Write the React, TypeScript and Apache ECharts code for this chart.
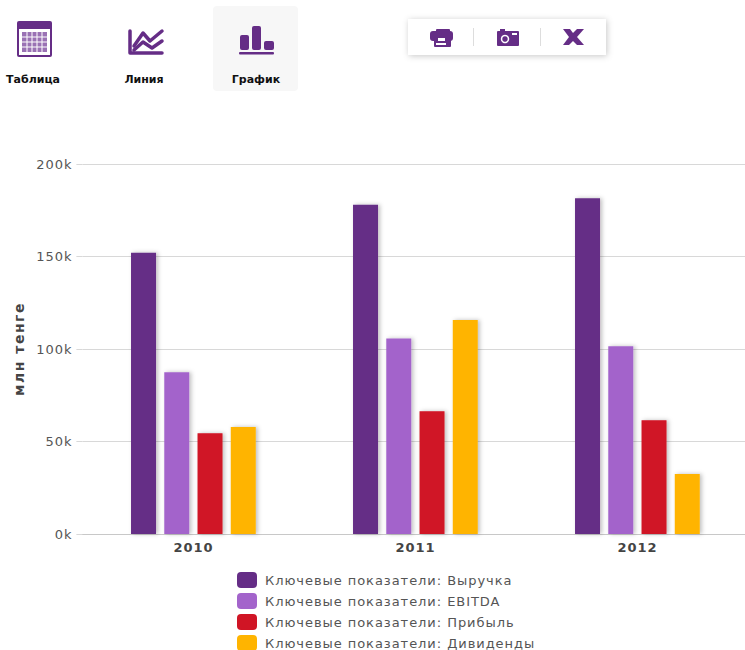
import React, { useEffect, useRef } from "react";
import * as echarts from "echarts";

const years = ["2010", "2011", "2012"];
const revenue = [152000, 178000, 181500];
const ebitda = [87500, 105700, 101500];
const profit = [54500, 66300, 61500];
const dividends = [57800, 115700, 32500];
const seriesNames = [
  "Ключевые показатели: Выручка",
  "Ключевые показатели: EBITDA",
  "Ключевые показатели: Прибыль",
  "Ключевые показатели: Дивиденды",
];
const colors = ["#652d86", "#a364cb", "#d01525", "#ffb400"];
const tabs = ["Таблица", "Линия", "График"];

const P = "#652d86";
const FONT = "'DejaVu Sans', Verdana, sans-serif";

const rect = (x: number, y: number, w: number, h: number, fill = P, r = 1): any => ({
  type: "rect",
  shape: { x, y, width: w, height: h, r },
  style: { fill },
});
const poly = (points: number[][], lineWidth = 4): any => ({
  type: "polyline",
  shape: { points },
  style: { stroke: P, lineWidth, fill: "none", lineCap: "round", lineJoin: "round" },
});

function tableIcon(): any[] {
  const out: any[] = [rect(17, 21, 35, 36, P, 2), rect(19, 29, 31, 26, "#ffffff", 0), rect(22, 32, 25, 20, "#9a72b4", 0)];
  for (let i = 1; i < 5; i++) out.push(rect(22 + i * 5 - 0.5, 32, 1, 20, "#ffffff", 0));
  for (let i = 1; i < 4; i++) out.push(rect(22, 32 + i * 5 - 0.5, 25, 1, "#ffffff", 0));
  return out;
}
function lineIcon(): any[] {
  return [
    poly([[130, 31], [130, 53], [162, 53]], 3.5),
    poly([[134, 46], [143, 33], [150, 41], [162, 31]], 3.5),
    poly([[134, 50], [143, 42], [152, 48], [162, 41]], 3.5),
  ];
}
function barIcon(): any[] {
  return [
    rect(240, 35, 9, 15, P, 2),
    rect(252, 26, 9, 24, P, 2),
    rect(264, 41, 10, 9, P, 2),
    rect(239, 52, 35, 2.5, P, 1),
  ];
}
function printerIcon(): any[] {
  return [
    rect(430, 31, 23, 10, P, 3),
    rect(436, 29, 14, 4, P, 1),
    rect(434, 37, 17, 10, P, 1),
    rect(438, 38, 7, 3, "#ffffff", 0),
    rect(436, 43, 10, 2, "#ffffff", 0),
  ];
}
function cameraIcon(): any[] {
  return [
    rect(497, 31, 22, 15, P, 1),
    rect(500, 29, 5, 3, P, 0),
    { type: "circle", shape: { cx: 505, cy: 39, r: 3.5 }, style: { fill: "none", stroke: "#ffffff", lineWidth: 1.5 } },
    rect(512, 33, 5, 2, "#ffffff", 0),
  ];
}
function excelIcon(): any[] {
  return [
    {
      type: "polygon",
      shape: {
        points: [[563, 29], [570, 29], [573, 33], [577, 29], [584, 29], [577, 37], [584, 45], [577, 45], [573, 41], [569, 45], [563, 45], [569, 37]],
      },
      style: { fill: P },
    },
  ];
}

function graphics(): any[] {
  const label = (text: string, x: number) => ({
    type: "text",
    x,
    y: 79,
    style: { text, fill: "#111111", font: `bold 11px ${FONT}`, align: "center", verticalAlign: "middle" },
  });
  return [
    { type: "rect", shape: { x: 213, y: 6, width: 85, height: 85, r: 4 }, style: { fill: "#f7f7f7" } },
    ...tableIcon(),
    ...lineIcon(),
    ...barIcon(),
    label(tabs[0], 33),
    label(tabs[1], 144),
    label(tabs[2], 256),
    {
      type: "rect",
      shape: { x: 408, y: 19, width: 198, height: 36 },
      style: { fill: "#ffffff", shadowBlur: 6, shadowColor: "rgba(0,0,0,0.22)", shadowOffsetX: 1, shadowOffsetY: 1 },
    },
    ...printerIcon(),
    rect(473, 28, 1, 18, "#dddddd", 0),
    ...cameraIcon(),
    rect(540, 28, 1, 18, "#dddddd", 0),
    ...excelIcon(),
  ].map((g) => ({ ...g, silent: true }));
}

const spacingCss = `
  text[style*="13px"] { letter-spacing: 0.95px; }
  text[style*="14px"] { letter-spacing: 1.5px; }
`;

export default function App() {
  const ref = useRef<HTMLDivElement>(null);
  useEffect(() => {
    document.body.style.margin = "0";
    const chart = echarts.init(ref.current!, undefined, { renderer: "svg" });
    const values = [revenue, ebitda, profit, dividends];
    chart.setOption({
      animation: false,
      color: colors,
      textStyle: { fontFamily: FONT },
      graphic: { elements: graphics() },
      grid: { left: 82.4, top: 164, width: 666, height: 370 },
      legend: {
        orient: "vertical",
        left: 237,
        top: 572,
        height: 90,
        itemWidth: 20,
        itemHeight: 16,
        itemGap: 5,
        icon: "roundRect",
        selectedMode: false,
        padding: 0,
        textStyle: { color: "#555555", fontSize: 13, fontFamily: FONT, padding: [0, 0, 0, 3] },
        data: seriesNames.map((name) => ({ name, itemStyle: { shadowBlur: 0, shadowOffsetX: 0, shadowOffsetY: 0, shadowColor: "transparent" } })),
      },
      xAxis: {
        type: "category",
        data: years,
        axisLine: { lineStyle: { color: "#c8c8c8", width: 1 } },
        axisTick: { alignWithLabel: false, length: 5, lineStyle: { color: "#c8c8c8" } },
        axisLabel: { color: "#444444", fontWeight: "bold", fontSize: 13, margin: 7, fontFamily: FONT },
      },
      yAxis: {
        type: "value",
        min: 0,
        max: 200000,
        interval: 50000,
        name: "млн тенге",
        nameLocation: "middle",
        nameGap: 56,
        nameRotate: 90,
        nameTextStyle: { color: "#444444", fontWeight: "bold", fontSize: 14, fontFamily: FONT },
        axisLine: { show: false },
        axisTick: { show: true, length: 6, lineStyle: { color: "#d8d8d8" } },
        splitLine: { lineStyle: { color: "#d8d8d8", width: 1 } },
        axisLabel: {
          color: "#555555",
          fontSize: 13,
          margin: 10,
          fontFamily: FONT,
          formatter: (v: number) => `${v / 1000}k`,
        },
      },
      series: seriesNames.map((name, i) => ({
        name,
        type: "bar",
        data: values[i],
        barWidth: 25,
        barGap: "33%",
        itemStyle: {
          color: colors[i],
          shadowColor: "rgba(0,0,0,0.25)",
          shadowBlur: 4,
          shadowOffsetX: 2,
          shadowOffsetY: 0,
        },
      })),
    });
    return () => chart.dispose();
  }, []);
  return (
    <div style={{ width: 745, height: 650, position: "absolute", left: 0, top: 0, overflow: "hidden" }}>
      <style>{spacingCss}</style>
      <div ref={ref} style={{ width: 765, height: 670 }} />
    </div>
  );
}
